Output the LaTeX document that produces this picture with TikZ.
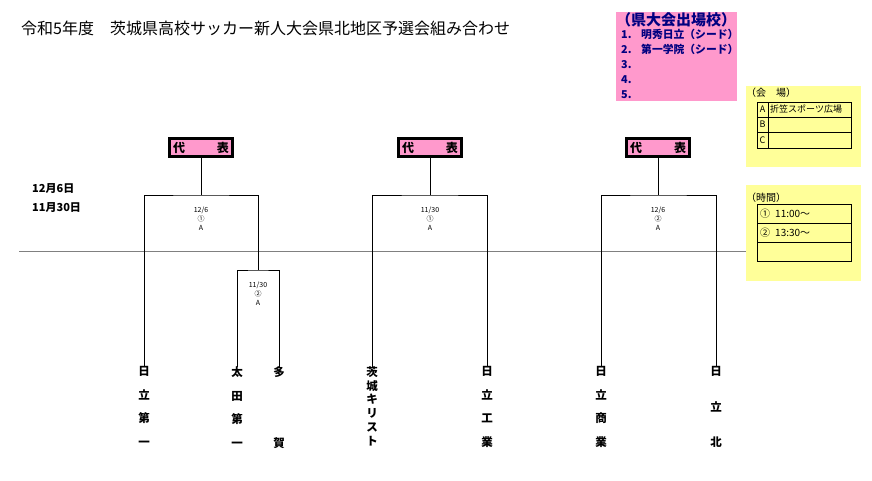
\documentclass[tikz,border=0pt]{standalone}
\usepackage{fontspec}
\setmainfont{Noto Sans CJK JP}
\definecolor{pinkbox}{RGB}{255,153,204}
\definecolor{yellowbox}{RGB}{255,255,153}
\definecolor{navytext}{RGB}{0,0,128}
\begin{document}
\begin{tikzpicture}[x=1pt,y=-1pt,
  every node/.style={inner sep=0pt},
  team/.style={font=\bfseries\fontsize{11.5pt}{#1}\selectfont,align=center,anchor=north},
  team/.default=23.5pt,
  repbox/.style={draw,line width=3pt,fill=pinkbox,minimum width=63pt,minimum height=18pt,font=\bfseries\fontsize{12pt}{12pt}\selectfont},
  match/.style={font=\fontsize{7pt}{9pt}\selectfont,align=center},
  bracket/.style={line width=1pt},
  cell/.style={font=\fontsize{9pt}{9pt}\selectfont}]
  \useasboundingbox (0,0) rectangle (872,480);
  \node[anchor=west,font=\fontsize{16pt}{16pt}\selectfont] (title) at (21,28) {令和5年度　茨城県高校サッカー新人大会県北地区予選会組み合わせ};
  \fill[pinkbox] (616,12) rectangle (737,101);
  \node[anchor=west,text=navytext,font=\bfseries\fontsize{15pt}{15pt}\selectfont] (seedhead) at (616,20) {（県大会出場校）};
  \node[anchor=north west,align=left,text=navytext,font=\bfseries\fontsize{10.8pt}{15pt}\selectfont] (seeds) at (621,28.5)
    {\makebox[20pt][l]{1.}明秀日立（シード）\\\makebox[20pt][l]{2.}第一学院（シード）\\3.\\4.\\5.};
  \fill[yellowbox] (746,86) rectangle (861,167);
  \node[anchor=west,font=\fontsize{10pt}{10pt}\selectfont] (venuehead) at (746,93) {（会　場）};
  \draw (757,102) rectangle (851,148) (757,117) -- (851,117) (757,132) -- (851,132) (768,102) -- (768,148);
  \node[cell] (va) at (762.5,109.5) {A};
  \node[cell] (vb) at (762.5,124.5) {B};
  \node[cell] (vc) at (762.5,140) {C};
  \node[cell,anchor=west] (vaname) at (770,109.5) {折笠スポーツ広場};
  \fill[yellowbox] (746,185) rectangle (861,281);
  \node[anchor=west,font=\fontsize{10pt}{10pt}\selectfont] (timehead) at (746,198) {（時間）};
  \draw (757,204) rectangle (851,261) (757,223) -- (851,223) (757,242) -- (851,242);
  \node[cell,anchor=west,font=\fontsize{10pt}{10pt}\selectfont] (time1) at (760,213.5) {①\hspace{5pt}11:00～};
  \node[cell,anchor=west,font=\fontsize{10pt}{10pt}\selectfont] (time2) at (760,232.5) {②\hspace{5pt}13:30～};
  \draw[gray,line width=1pt] (19,251) -- (746,251);
  \node[anchor=west,font=\bfseries\fontsize{11pt}{11pt}\selectfont] (date1) at (32,189) {12月6日};
  \node[anchor=west,font=\bfseries\fontsize{11pt}{11pt}\selectfont] (date2) at (32,208) {11月30日};
  \node[repbox] (rep1) at (201,147.5) {\makebox[56pt]{代\hfill{}表}};
  \node[repbox] (rep2) at (430,147.5) {\makebox[56pt]{代\hfill{}表}};
  \node[repbox] (rep3) at (658,147.5) {\makebox[56pt]{代\hfill{}表}};
  \node[team] (hitachi1) at (144,366.5) {日\\立\\第\\一};
  \node[team] (ota1) at (237,366.5) {太\\田\\第\\一};
  \node[team=71pt] (taga) at (279,366.5) {多\\賀};
  \node[team=13.7pt] (ibakiri) at (372,366.5) {茨\\城\\キ\\リ\\ス\\ト};
  \node[team] (hitachikogyo) at (487,366.5) {日\\立\\工\\業};
  \node[team] (hitachishogyo) at (601,366.5) {日\\立\\商\\業};
  \node[team=35.5pt] (hitachikita) at (716,366.5) {日\\立\\北};
  \coordinate (top1) at (201,195);
  \coordinate (sub1) at (258,270);
  \coordinate (top2) at (430,195);
  \coordinate (top3) at (658,195);
  \draw[bracket] (rep1) -- (top1);
  \draw[bracket] (hitachi1) |- (top1) -| (sub1);
  \draw[bracket] (ota1) |- (sub1) -| (taga);
  \draw[bracket] (rep2) -- (top2);
  \draw[bracket] (ibakiri) |- (top2) -| (hitachikogyo);
  \draw[bracket] (rep3) -- (top3);
  \draw[bracket] (hitachishogyo) |- (top3) -| (hitachikita);
  \node[match] (m1) at (201,219) {12/6\\①\\A};
  \node[match] (m2) at (258,294) {11/30\\②\\A};
  \node[match] (m3) at (430,219) {11/30\\①\\A};
  \node[match] (m4) at (658,219) {12/6\\②\\A};
\end{tikzpicture}
\end{document}
